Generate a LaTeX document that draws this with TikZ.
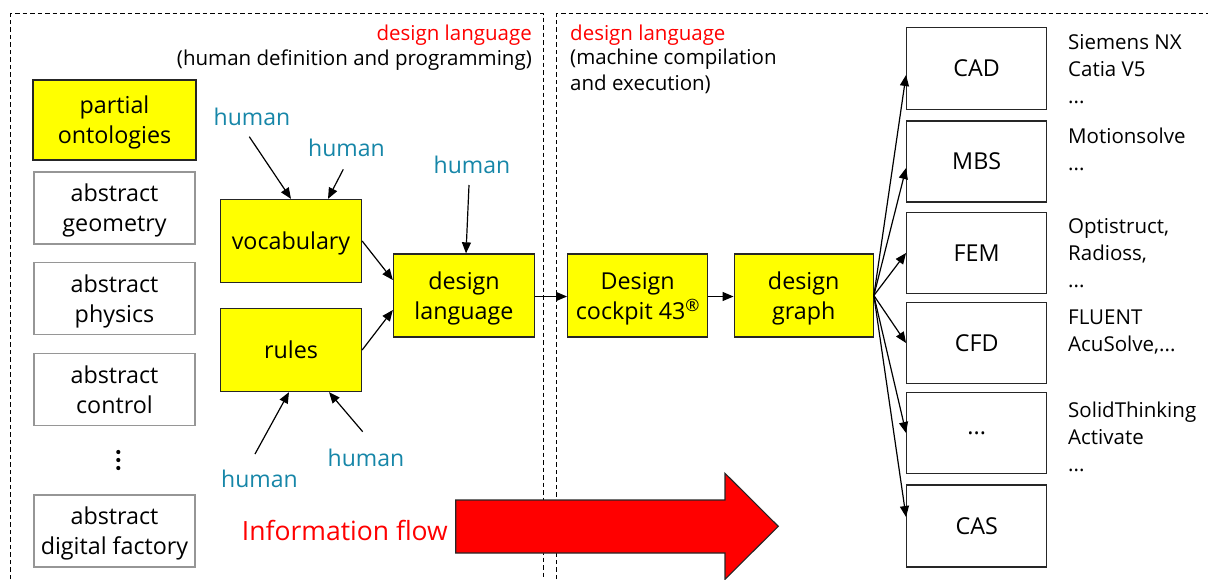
\documentclass[tikz,border=0pt]{standalone}
\usepackage{fontspec}
\setmainfont{Open Sans}
\usetikzlibrary{arrows.meta}

\definecolor{boxyellow}{RGB}{255,255,0}
\definecolor{humanteal}{RGB}{22,134,168}
\definecolor{flowred}{RGB}{255,0,0}
\definecolor{edgegray}{RGB}{150,150,150}

\newcommand{\boxfont}{\fontsize{23.3}{30}\selectfont}
\newcommand{\labfont}{\fontsize{20.5}{26}\selectfont}
\newcommand{\toolfont}{\fontsize{20.5}{27}\selectfont}
\newcommand{\humfont}{\fontsize{23}{26}\selectfont}
\newcommand{\flowfont}{\fontsize{26.5}{30}\selectfont}

\begin{document}
\begin{tikzpicture}[x=1pt,y=-1pt,
  ybox/.style={draw=black!85, fill=boxyellow, line width=1.3pt, align=center,
    font=\boxfont, inner sep=0pt, text depth=0pt, minimum width=141pt, minimum height=83pt},
  wbox/.style={draw=edgegray, fill=white, line width=1.3pt, align=center,
    font=\boxfont, inner sep=0pt, text depth=0pt, minimum width=161pt, minimum height=72pt},
  tbox/.style={draw=black!85, fill=white, line width=1.3pt, align=center,
    font=\boxfont, inner sep=0pt, minimum width=140pt, minimum height=81pt},
  human/.style={text=humanteal, font=\humfont, inner sep=0pt},
  tool/.style={font=\toolfont, align=left, anchor=north west, inner sep=0pt},
  arr/.style={line width=1.2pt, -{Triangle[length=11pt,width=9pt]}},
  frame/.style={line width=1.1pt, dash pattern=on 4.5pt off 3pt}]

\useasboundingbox (0,0) rectangle (1208,579);

% the two regions of the design language
\draw[frame] (10.7,579) -- (10.7,13.5) -- (543.5,13.5) -- (543.5,579);
\draw[frame] (556.5,579) -- (556.5,13.5) -- (1208,13.5);

\node[font=\labfont, text=flowred, anchor=east, inner sep=0pt] (tl1) at (532,35) {design language};
\node[font=\labfont, anchor=east, inner sep=0pt] (tl2) at (532,60) {(human definition and programming)};
\node[font=\labfont, text=flowred, anchor=west, inner sep=0pt] (tr1) at (570,35) {design language};
\node[font=\labfont, anchor=north west, align=left, inner sep=0pt] (tr2) at (570,49)
  {(machine compilation\\and execution)};

% ontology column
\node[ybox, minimum width=163pt, minimum height=80pt] (po) at (114.5,120) {partial\\ontologies};
\node[wbox] (ag)  at (114.5,208)   {abstract\\geometry};
\node[wbox] (ap)  at (114.5,298.2) {abstract\\physics};
\node[wbox] (ac)  at (114.5,389.7) {abstract\\control};
\node[wbox] (adf) at (114.5,531)   {abstract\\digital factory};
\foreach \yy in {452,460,468} \fill (118.3,\yy) circle (2.1pt);

% definition part
\node[ybox] (voc) at (291,241)   {vocabulary};
\node[ybox] (rul) at (291,350)   {rules};
\node[ybox] (dl)  at (464,295.5) {design\\language};
\node[ybox, minimum width=140pt] (dc) at (637.7,295.5)
  {Design\\cockpit 43\raisebox{8pt}{\fontsize{17}{17}\selectfont ®}};
\node[ybox, minimum width=139pt] (dg) at (803.7,295.5) {design\\graph};

% human inputs
\node[human] (h1) at (252,117)   {human};
\node[human] (h2) at (346.5,148) {human};
\node[human] (h3) at (472,165)   {human};
\node[human] (h4) at (259.5,479) {human};
\node[human] (h5) at (366,458)   {human};
\coordinate (h1s) at (249.3,136.7);
\coordinate (h2s) at (343.3,169.3);
\coordinate (h3s) at (469,185);
\coordinate (h4s) at (255,454);
\coordinate (h5s) at (362.7,431.7);
\draw[arr] (h1s) -- (voc.north);
\draw[arr] (h2s) -- ([xshift=37pt]voc.north);
\draw[arr] (h3s) -- ([xshift=2pt]dl.north);
\draw[arr] (h4s) -- ([xshift=-2pt]rul.south);
\draw[arr] (h5s) -- ([xshift=38pt]rul.south);

\draw[arr] (voc.east) -- ([yshift=15.5pt]dl.west);
\draw[arr] (rul.east) -- ([yshift=-14.5pt]dl.west);
\draw[arr] ([yshift=-1pt]dl.east) -- ([yshift=-1pt]dc.west);
\draw[arr] ([yshift=-1pt]dc.east) -- ([yshift=-1pt]dg.west);

% tool boxes
\node[tbox, minimum height=82pt] (cad) at (976.7,68.5)  {CAD};
\node[tbox] (mbs) at (976.7,161.5) {MBS};
\node[tbox] (fem) at (976.7,253)   {FEM};
\node[tbox] (cfd) at (976.7,343)   {CFD};
\node[tbox] (etc) at (976.7,433)   {...};
\node[tbox, minimum height=82pt] (cas) at (976.7,526) {CAS};

\draw[arr] (dg.east) -- ([yshift=-6.5pt]cad.west);
\draw[arr] (dg.east) -- ([yshift=-6.5pt]mbs.west);
\draw[arr] (dg.east) -- (fem.west);
\draw[arr] (dg.east) -- (cfd.west);
\draw[arr] (dg.east) -- (etc.west);
\draw[arr] (dg.east) -- ([yshift=9pt]cas.west);

\node[tool] (t1) at (1068,34.5)  {Siemens NX\\Catia V5\\...};
\node[tool] (t2) at (1068,127.5) {Motionsolve\\...};
\node[tool] (t3) at (1068,218.5) {Optistruct,\\Radioss,\\...};
\node[tool] (t4) at (1068,309.5) {FLUENT\\AcuSolve,...};
\node[tool] (t5) at (1068,401.5) {SolidThinking\\Activate\\...};

% information flow
\draw[line width=1.1pt, fill=flowred, draw=black!85]
  (455.7,500) -- (725,500) -- (725,473.3) -- (778.3,526.3) -- (725,579.3)
  -- (725,553) -- (455.7,553) -- cycle;
\node[font=\flowfont, text=flowred, anchor=east, inner sep=0pt] (flow) at (448,530) {Information flow};

\end{tikzpicture}
\end{document}
